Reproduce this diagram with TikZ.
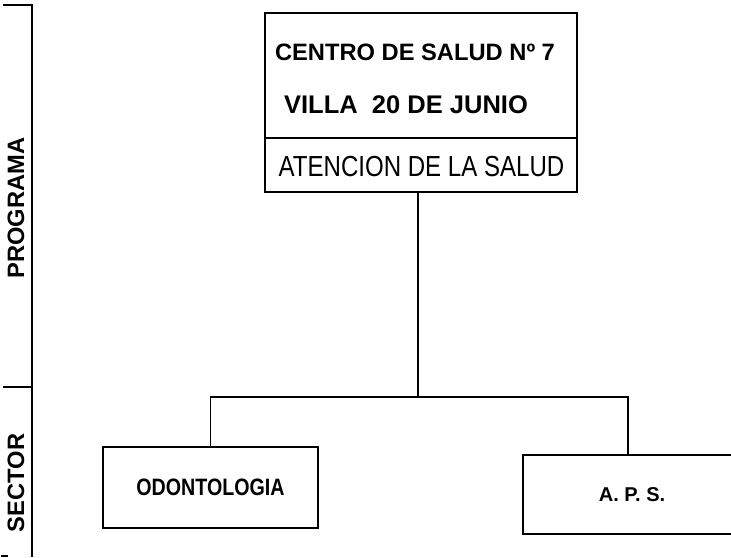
\documentclass[tikz,border=0pt]{standalone}
\usepackage{fontspec}
\setmainfont{Liberation Sans}
\newfontfamily\narrowfont[FakeStretch=0.83]{Liberation Sans}
\begin{document}
\begin{tikzpicture}[x=1pt,y=-1pt]

    \tikzset{
      box/.style={
        draw,
        line width=1.2pt,
        rectangle,
        inner sep=0pt,
      },
      boldtext/.style={font=\bfseries\fontsize{23.7}{26}\selectfont},
    }
    \useasboundingbox (0,0) rectangle (731,557);
    \clip (0,0) rectangle (731,557);

	% bracket at the left
	\draw[line width=1.2pt] (3,5)--(32,5)--(32,557);
	\draw[line width=1.2pt] (3,387)--(32,387);
	\draw[line width=1.2pt] (1,556)--(8,556);
	\node (programa) at (16,208) [boldtext, rotate=90] {PROGRAMA};
	\node (sector) at (16,483) [boldtext, rotate=90] {SECTOR};

	% boxes
	\node (centro) at (421,75.5) [box, minimum width=312pt, minimum height=125pt] {};
	\node (atencion) at (421,165) [box, minimum width=312pt, minimum height=54pt] {};
	\node (centro1) at (415,52) [boldtext] {CENTRO DE SALUD Nº 7};
	\node (centro2) at (406,105) [font=\bfseries\fontsize{25.5}{28}\selectfont] {VILLA\ \ 20 DE JUNIO};
	\node (atencion1) at (421.5,167) [font=\narrowfont\fontsize{29}{32}\selectfont] {ATENCION DE LA SALUD};
	\node (odonto) at (210.5,487.5) [box, minimum width=215pt, minimum height=81pt,
	  font=\narrowfont\bfseries\fontsize{23.7}{26}\selectfont] {ODONTOLOGIA};
	\node (aps) at (628,494.5) [box, minimum width=210pt, minimum height=79pt,
	  font=\bfseries\fontsize{20}{22}\selectfont] {\hspace{8pt}A. P. S.};

	% connectors
	\coordinate (bar) at (418,397);
	\draw[line width=1.2pt] (atencion.south -| bar)--(bar);
	\draw[line width=1.2pt] (odonto.north) |- (bar) -| (aps.north);

\end{tikzpicture}
\end{document}
